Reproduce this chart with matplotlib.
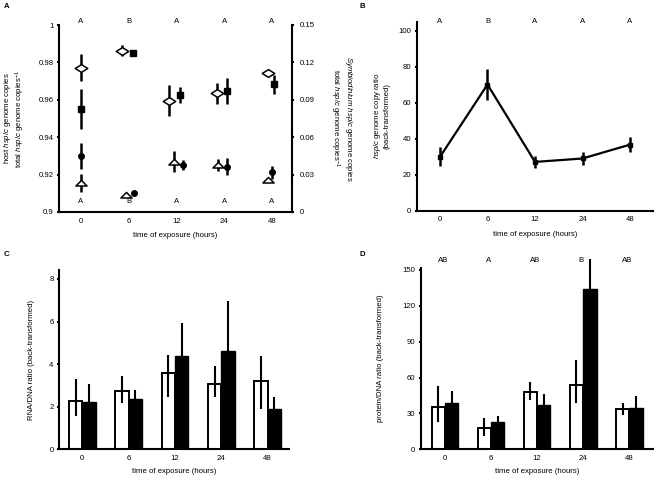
import numpy as np
import matplotlib
matplotlib.use("Agg")
import matplotlib.pyplot as plt
import matplotlib.transforms as mtransforms
from matplotlib.path import Path

plt.rcParams['font.family'] = ['Liberation Sans', 'DejaVu Sans']
plt.rcParams['font.size'] = 5.6
plt.rcParams['mathtext.fontset'] = 'custom'
plt.rcParams['mathtext.rm'] = 'Liberation Sans'
plt.rcParams['mathtext.it'] = 'Liberation Sans:italic'

# ---- data ----
hours = ['0', '6', '12', '24', '48']

# panel A: host (left axis) and Symbiodinium (right axis) fractions
host_ctrl = [0.9772, 0.9863, 0.9594, 0.9635, 0.9745]
host_ctrl_err = [0.0073, 0.0030, 0.0083, 0.0055, 0.0010]
host_trt = [0.9551, 0.9849, 0.9626, 0.9647, 0.9684]
host_trt_err = [0.0107, 0.0008, 0.0043, 0.0070, 0.0051]
sym_ctrl = [0.0230, 0.0136, 0.0404, 0.0377, 0.0257]
sym_ctrl_err = [0.0071, 0.0010, 0.0085, 0.0051, 0.0010]
sym_trt = [0.0452, 0.0150, 0.0377, 0.0364, 0.0318]
sym_trt_err = [0.0105, 0.0010, 0.0043, 0.0070, 0.0054]
letters_A_top = ['A', 'B', 'A', 'A', 'A']
letters_A_bot = ['A', 'B', 'A', 'A', 'A']

# panel B: copy ratio
ratio = [29.9, 70.1, 27.1, 29.0, 36.7]
ratio_err = [5.3, 8.5, 3.5, 3.5, 4.3]
letters_B = ['A', 'B', 'A', 'A', 'A']

# panel C: RNA/DNA (mean, lower, upper)
rna_ctrl = [2.27, 2.76, 3.60, 3.07, 3.21]
rna_ctrl_lo = [1.57, 2.19, 2.47, 2.44, 1.88]
rna_ctrl_hi = [3.29, 3.44, 4.45, 3.91, 4.38]
rna_trt = [2.22, 2.38, 4.40, 4.60, 1.88]
rna_trt_lo = [1.50, 2.00, 3.20, 3.00, 1.40]
rna_trt_hi = [3.07, 2.79, 5.93, 6.94, 2.47]

# panel D: protein/DNA (mean, lower, upper)
prot_ctrl = [35.7, 17.6, 48.2, 53.8, 33.5]
prot_ctrl_lo = [23.1, 11.2, 41.3, 38.5, 29.0]
prot_ctrl_hi = [53.3, 25.9, 56.0, 74.7, 39.0]
prot_trt = [39.0, 22.6, 37.4, 133.8, 34.9]
prot_trt_lo = [30.0, 17.0, 29.0, 110.0, 26.0]
prot_trt_hi = [48.8, 28.2, 46.0, 159.0, 44.9]
letters_D = ['AB', 'A', 'AB', 'B', 'AB']

# ---- layout ----
W, H = 656, 480
fig = plt.figure(figsize=(W / 100, H / 100), dpi=100)

def rect(l, r, top, bot):
    return [l / W, 1 - bot / H, (r - l) / W, (bot - top) / H]

x = np.arange(len(hours))
xlabel = 'time of exposure (hours)'
lw_sp = 1.5


def style(ax, ylim, yticks, xlim, xpad=4):
    for s in ['top', 'right']:
        ax.spines[s].set_visible(False)
    for s in ['left', 'bottom']:
        ax.spines[s].set_linewidth(lw_sp)
    ax.set_xlim(*xlim)
    ax.set_ylim(*ylim)
    ax.set_yticks(yticks)
    ax.set_xticks(x)
    ax.set_xticklabels(hours)
    ax.tick_params(axis='x', length=0, pad=4)
    ax.tick_params(axis='y', length=1.5, width=1.5, pad=2.5)
    ax.set_xlabel(xlabel, labelpad=xpad)


# panel A
axA = fig.add_axes(rect(59, 292, 25, 212))
style(axA, (0.9, 1.0), [0.9, 0.92, 0.94, 0.96, 0.98, 1.0], (-0.46, 4.42), 5.5)
axA.set_yticklabels(['0.9', '0.92', '0.94', '0.96', '0.98', '1'])
axA.set_ylabel('host $\\mathit{hsp/c}$ genome copies\n'
               'total $\\mathit{hsp/c}$ genome copies$^{-1}$', labelpad=8,
               linespacing=1.1)
axA2 = axA.twinx()
for s in ['top', 'left', 'bottom']:
    axA2.spines[s].set_visible(False)
axA2.spines['right'].set_linewidth(lw_sp)
axA2.set_ylim(0, 0.15)
axA2.set_yticks([0, 0.03, 0.06, 0.09, 0.12, 0.15])
axA2.set_yticklabels(['0', '0.03', '0.06', '0.09', '0.12', '0.15'])
axA2.tick_params(axis='y', length=1.5, width=1.5, pad=4)
axA2.set_ylabel('$\\mathit{Symbiodinium}$ $\\mathit{hsp/c}$ genome copies\n'
                'total $\\mathit{hsp/c}$ genome copies$^{-1}$',
                rotation=270, labelpad=28, linespacing=1.1)

diamond = Path([(-1, 0), (0, 0.62), (1, 0), (0, -0.62), (-1, 0)],
               [Path.MOVETO, Path.LINETO, Path.LINETO, Path.LINETO, Path.CLOSEPOLY])
triangle = Path([(-1, -0.45), (0, 0.55), (1, -0.45), (-1, -0.45)],
                [Path.MOVETO, Path.LINETO, Path.LINETO, Path.CLOSEPOLY])
dodge_dia = np.array([0, -0.15, -0.15, -0.16, -0.09])
dodge_sq = np.array([0, 0.08, 0.08, 0.05, 0.05])
dodge_tri = np.array([0, -0.06, -0.05, -0.13, -0.08])
dodge_cir = np.array([0, 0.11, 0.13, 0.06, 0.0])

ekw = dict(ls='none', ecolor='black', elinewidth=1.8, capsize=0)
axA.errorbar(x + dodge_dia, host_ctrl, yerr=host_ctrl_err, marker=diamond,
             ms=9, mfc='white', mec='black', mew=1.1, **ekw)
axA.errorbar(x + dodge_sq, host_trt, yerr=host_trt_err, marker='s',
             ms=5, mfc='black', mec='black', **ekw)
axA2.errorbar(x + dodge_tri, sym_ctrl, yerr=sym_ctrl_err, marker=triangle,
              ms=8, mfc='white', mec='black', mew=1.1, **ekw)
axA2.errorbar(x + dodge_cir, sym_trt, yerr=sym_trt_err, marker='o',
              ms=4, mfc='black', mec='black', **ekw)
trA = mtransforms.blended_transform_factory(axA.transData, axA.transAxes)
for i, (t, b) in enumerate(zip(letters_A_top, letters_A_bot)):
    axA.text(i, 1.018, t, transform=trA, ha='center', va='center', clip_on=False)
    axA.text(i, 0.055, b, transform=trA, ha='center', va='center')

# panel B
axB = fig.add_axes(rect(417, 653, 21.7, 210.7))
style(axB, (0, 105), [0, 20, 40, 60, 80, 100], (-0.484, 4.484), 5.5)
axB.set_ylabel('$\\mathit{hsp/c}$ genome copy ratio\n(back-transformed)',
               labelpad=6, linespacing=1.1)
axB.errorbar(x, ratio, yerr=ratio_err, color='black', lw=1.6, marker='s', ms=3,
             ecolor='black', elinewidth=1.8, capsize=0)
trB = mtransforms.blended_transform_factory(axB.transData, axB.transAxes)
for i, t in enumerate(letters_B):
    axB.text(i, 1.0, t, transform=trB, ha='center', va='center', clip_on=False)


def bars(ax, m1, lo1, hi1, m2, lo2, hi2):
    m1, lo1, hi1 = map(np.array, (m1, lo1, hi1))
    m2, lo2, hi2 = map(np.array, (m2, lo2, hi2))
    w = 0.29
    ax.bar(x - w / 2, m1, width=w, color='white', edgecolor='black', lw=1.4, zorder=2)
    ax.bar(x + w / 2, m2, width=w, color='black', edgecolor='black', lw=1.0, zorder=2)
    ax.errorbar(x - w / 2, m1, yerr=[m1 - lo1, hi1 - m1], ls='none', ecolor='black',
                elinewidth=1.5, capsize=0, zorder=3, clip_on=False)
    ax.errorbar(x + w / 2, m2, yerr=[m2 - lo2, hi2 - m2], ls='none', ecolor='black',
                elinewidth=1.5, capsize=0, zorder=3, clip_on=False)


# panel C
axC = fig.add_axes(rect(59.3, 289, 270.4, 449.3))
style(axC, (0, 8.4), [0, 2, 4, 6, 8], (-0.496, 4.46), 4.5)
axC.set_ylabel('RNA/DNA ratio (back-transformed)', labelpad=10)
bars(axC, rna_ctrl, rna_ctrl_lo, rna_ctrl_hi, rna_trt, rna_trt_lo, rna_trt_hi)

# panel D
axD = fig.add_axes(rect(420.7, 652.7, 267.6, 449.3))
style(axD, (0, 152), [0, 30, 60, 90, 120, 150], (-0.527, 4.51), 4.5)
axD.set_ylabel('protein/DNA ratio (back-transformed)', labelpad=13)
bars(axD, prot_ctrl, prot_ctrl_lo, prot_ctrl_hi, prot_trt, prot_trt_lo, prot_trt_hi)
trD = mtransforms.blended_transform_factory(axD.transData, axD.transAxes)
for i, t in enumerate(letters_D):
    axD.text(i - 0.05, 1.038, t, transform=trD, ha='center', va='center', clip_on=False)

# panel letters
for lab, px, py in [('A', 6.7, 6), ('B', 362.7, 6), ('C', 6.7, 255), ('D', 362.7, 255)]:
    fig.text(px / W, 1 - py / H, lab, fontweight='bold', ha='center', va='center')

fig.savefig('out.png', dpi=100)
